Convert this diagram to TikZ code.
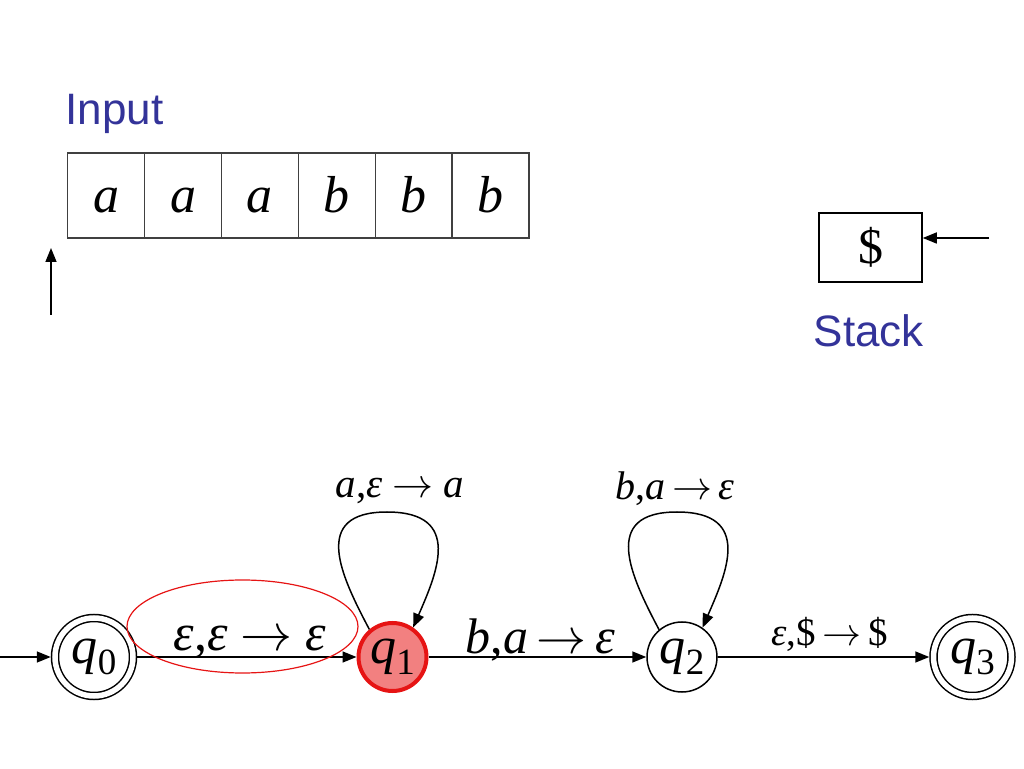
\documentclass[tikz,border=0pt]{standalone}
\usepackage{fix-cm}
\usepackage{fontspec}
\setmainfont{Liberation Serif}
\newfontfamily\headfont{Liberation Sans}
\usetikzlibrary{arrows.meta,calc}
\definecolor{titleblue}{RGB}{51,51,153}
\definecolor{hotred}{RGB}{230,20,20}
\definecolor{activefill}{RGB}{242,128,128}
\newcommand{\fs}[1]{\fontsize{#1pt}{#1pt}\selectfont}
\newcommand{\qsub}[1]{\textit{q}\raisebox{-11pt}{\fs{37}#1}}
\newcommand{\yields}{$\rightarrow$}
\tikzset{
  cell/.style={draw=black!75,minimum width=76.9pt,minimum height=85pt,text height=35pt,text depth=0pt,inner sep=0pt,font={\fs{52}\itshape}},
  stnode/.style={circle,draw,minimum size=70pt,inner sep=0pt,font={\fs{52}}},
  acceptnode/.style={stnode,double,double distance=5.5pt,minimum size=78pt,outer sep=4.25pt},
  lbl/.style={anchor=base,inner sep=0pt},
  headlbl/.style={anchor=base west,inner sep=0pt,text=titleblue,font={\headfont\fs{44}}}
}
\begin{document}
\begin{tikzpicture}[x=1pt,y=1pt,>={Triangle[length=14pt,width=11pt]},line width=1.5pt]
\useasboundingbox (0,0) rectangle (1024,768);
% input tape
\node[headlbl] (inlbl) at (65,643) {Input};
\foreach \ch [count=\i] in {a,a,a,b,b,b}
  \node[cell] (c\i) at (76.9*\i+29.25,572.5) {\ch};
\coordinate (headtail) at (51,453);
\coordinate (headtip) at (51,520);
\draw[->](headtail)--(headtip);
% stack
\node[draw,minimum width=103pt,minimum height=69pt,inner sep=0pt,font={\fs{50}}] (stk) at (870.5,520.5) {\raisebox{-6pt}{\$}};
\coordinate (push) at (989,530);
\draw[->](push)--(push -| stk.east);
\node[headlbl] (stklbl) at (813,421) {Stack};
% automaton
\coordinate (start) at (0,111);
\node[acceptnode] (q0) at (94,111) {\qsub0};
\node[stnode,fill=activefill,draw=hotred,line width=4pt,minimum size=68pt] (q1) at (392.5,111) {\qsub1};
\node[stnode] (q2) at (682,111) {\qsub2};
\node[acceptnode] (q3) at (972.5,111) {\qsub3};
\draw[->](start)--(q0);
\draw[->](q0)--node[lbl,xshift=3pt,yshift=7pt,font={\fs{52}}](e01){\textit{ε},\textit{ε} \yields{} \textit{ε}}(q1);
\draw[->](q1)--node[lbl,xshift=3pt,yshift=4pt,font={\fs{50}}](e12){\textit{b},\textit{a}\,\yields\,\textit{ε}}(q2);
\draw[->](q2)--node[lbl,xshift=6pt,yshift=12pt,font={\fs{39}}](e23){\textit{ε},\$\,\yields\,\$}(q3);
\draw[->](q1.130) .. controls +(-28,53) and +(-77,0) .. ($(q1)+(-5.5,145)$) coordinate (t1)
  .. controls +(77,0) and +(23,53) .. (q1.55);
\draw[->](q2.130) .. controls +(-28,53) and +(-77,0) .. ($(q2)+(-5,145)$) coordinate (t2)
  .. controls +(77,0) and +(23,53) .. (q2.55);
\node[lbl,font={\fs{41}}] (l1) at ($(t1)+(13,14)$) {\textit{a},\textit{ε} \yields{} \textit{a}};
\node[lbl,font={\fs{40}}] (l2) at ($(t2)+(-2,12)$) {\textit{b},\textit{a}\,\yields\,\textit{ε}};
\draw[hotred,line width=1.2pt](242.5,141.5) ellipse (115.5 and 46.5);
\end{tikzpicture}
\end{document}
